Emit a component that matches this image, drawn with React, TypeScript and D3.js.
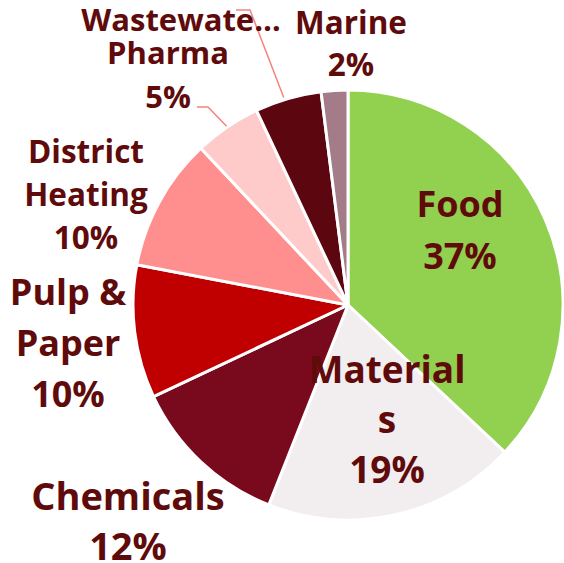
import React from "react";
import * as d3 from "d3";

const categories = ["Food", "Materials", "Chemicals", "Pulp & Paper", "District Heating", "Pharma", "Wastewater", "Marine"];
const values = [37, 19, 12, 10, 10, 5, 5, 2];
const colors = ["#92d050", "#f2edee", "#790a1d", "#c00000", "#ff8f8f", "#ffcaca", "#5c0610", "#a47c89"];

// label text lines per slice
const labelLines: string[][] = [
  ["Food", "37%"],
  ["Material", "s", "19%"],
  ["Chemicals", "12%"],
  ["Pulp &", "Paper", "10%"],
  ["District", "Heating", "10%"],
  ["Pharma", "5%"],
  ["Wastewate…"],
  ["Marine", "2%"],
];

const W = 564, H = 563;
const cx = 348, cy = 305, R = 215;

// label layout (center x, first baseline y, line gap, font size)
const labelPos = [
  { x: 460, y: 217, gap: 52, fs: 36 },
  { x: 387, y: 383, gap: 50, fs: 37 },
  { x: 128, y: 510, gap: 50, fs: 38 },
  { x: 68, y: 305, gap: 51, fs: 36 },
  { x: 86, y: 163, gap: 43, fs: 31.5 },
  { x: 168, y: 64, gap: 44, fs: 31 },
  { x: 181, y: 31, gap: 44, fs: 31 },
  { x: 351, y: 34, gap: 42, fs: 31.5 },
];

export default function App() {
  const pie = d3.pie<number>().sort(null).value((d) => d).startAngle(0).endAngle(2 * Math.PI);
  const arcs = pie(values);
  const arc = d3.arc<d3.PieArcDatum<number>>().innerRadius(0).outerRadius(R);
  const outer = (a: d3.PieArcDatum<number>, r: number) => {
    const m = (a.startAngle + a.endAngle) / 2;
    return [cx + r * Math.sin(m), cy - r * Math.cos(m)];
  };
  const pharmaEdge = outer(arcs[5], R + 1);
  const wwEdge = outer(arcs[6], R + 1);
  const leader = d3.line();
  return (
    <svg width={W} height={H} style={{ position: "absolute", left: 0, top: 0, background: "#fff" }}>
      <g transform={`translate(${cx},${cy})`}>
        {arcs.map((a, i) => (
          <path key={categories[i]} d={arc(a) || ""} fill={colors[i]} stroke="#fff" strokeWidth={3} strokeLinejoin="round" />
        ))}
      </g>
      <path d={leader([[197, 107], [208, 107], [pharmaEdge[0], pharmaEdge[1]]]) || ""} fill="none" stroke="#f4847c" strokeWidth={1.5} />
      <path d={leader([[236, 10], [250, 10], [wwEdge[0] - 4, wwEdge[1]]]) || ""} fill="none" stroke="#f4847c" strokeWidth={1.5} />
      {labelLines.map((lines, i) => (
        <text key={i} textAnchor="middle" fontFamily="'Open Sans', sans-serif" fontWeight={700} fontSize={labelPos[i].fs} fill="#600b0b">
          {lines.map((t, j) => (
            <tspan key={j} x={labelPos[i].x} y={labelPos[i].y + j * labelPos[i].gap}>{t}</tspan>
          ))}
        </text>
      ))}
    </svg>
  );
}
